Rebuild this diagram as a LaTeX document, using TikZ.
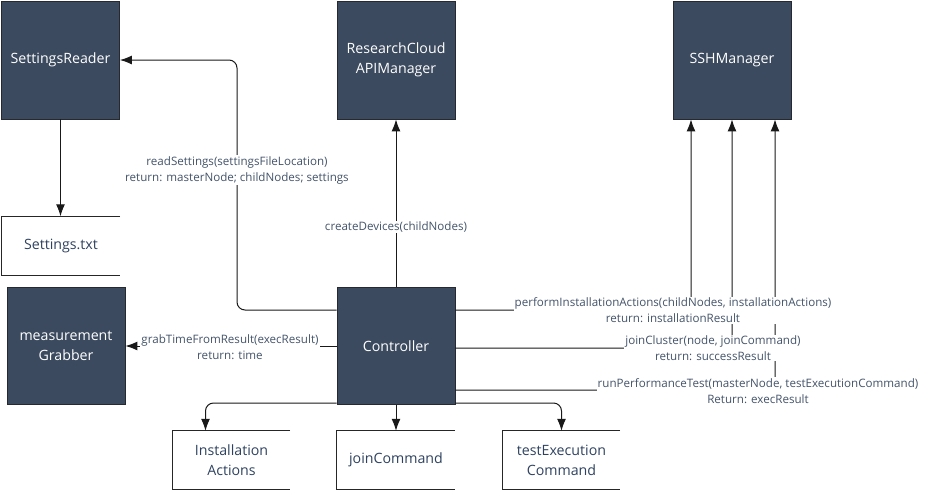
\documentclass[tikz,border=0pt]{standalone}
\usepackage{fontspec}
\setmainfont{Open Sans}
\usepackage{xcolor}
\usepackage{tikz}
\usetikzlibrary{arrows.meta}

\definecolor{boxfill}{HTML}{3B4A5E}
\definecolor{boxline}{HTML}{262A30}
\definecolor{lbltext}{HTML}{44546A}
\definecolor{filetext}{HTML}{2E4260}

\tikzset{
	comp/.style={draw=boxline, fill=boxfill, text=white, line width=0.8pt, minimum width=118pt, minimum height=118pt, align=center, font=\fontsize{14.2}{20}\selectfont},
	store/.style={minimum width=118pt, minimum height=59pt, align=center, text=filetext, font=\fontsize{14.2}{20}\selectfont},
	storeline/.style={draw=black!85, line width=1pt},
	conn/.style={draw=black!90, line width=1pt, rounded corners=8pt, -{Latex[length=12pt,width=9pt]}},
	lbl/.style={fill=white, text=lbltext, align=center, inner sep=1pt, font=\fontsize{11.6}{16}\selectfont}
}

\begin{document}
\begin{tikzpicture}[x=1pt, y=-1pt]
			\useasboundingbox (0,0) rectangle (927,491);

			\node[comp] (reader) at (60.5,60) {SettingsReader};
			\node[comp] (apimgr) at (396,60) {ResearchCloud\\APIManager};
			\node[comp] (sshmgr) at (732,60) {SSHManager};
			\node[comp, minimum height=117pt] (grabber) at (66,346) {measurement\\Grabber};
			\node[comp, minimum height=117pt] (ctrl) at (396,346) {Controller};

			\node[store] (settings) at (61,246) {Settings.txt};
			\node[store, minimum width=117pt, minimum height=58pt] (instact) at (231.5,460) {Installation\\Actions};
			\node[store, minimum height=58pt] (joincmd) at (396,460) {joinCommand};
			\node[store, minimum width=117pt, minimum height=58pt] (testcmd) at (561.5,460) {testExecution\\Command};
			\foreach \n in {settings, instact, joincmd, testcmd}
				\draw[storeline] (\n.north east) -- (\n.north west) -- (\n.south west) -- (\n.south east);

			\coordinate (rdturn) at (237,60);
			\draw[conn] ([yshift=36pt]ctrl.west) -| (rdturn) -- (reader.east);
			\draw[conn] (reader.south) -- (reader.south |- settings.north);
			\draw[conn] (ctrl.north) -- (apimgr.south);
			\draw[conn] (ctrl.west) -- (grabber.east);
			\draw[conn] ([yshift=36pt]ctrl.east) -| ([xshift=-41pt]sshmgr.south);
			\draw[conn] ([yshift=-2pt]ctrl.east) -| (sshmgr.south);
			\draw[conn] ([yshift=-44pt]ctrl.east) -| ([xshift=43pt]sshmgr.south);
			\draw[conn] ([yshift=-57pt]ctrl.west) -| ([xshift=-26pt]instact.north);
			\draw[conn] (ctrl.south) -- (joincmd.north);
			\draw[conn] ([yshift=-57pt]ctrl.east) -| (testcmd.north);

			\node[lbl] (rdlbl) at (237,170) {readSettings(settingsFileLocation)\\return: masterNode; childNodes; settings};
			\node[lbl] (devlbl) at (396,227) {createDevices(childNodes)};
			\node[lbl] (grablbl) at (230,347) {grabTimeFromResult(execResult)\\return: time};
			\node[lbl] (instlbl) at (673,310.5) {performInstallationActions(childNodes, installationActions)\\return: installationResult};
			\node[lbl] (joinlbl) at (713,348) {joinCluster(node, joinCommand)\\return: successResult};
			\node[lbl] (perflbl) at (758,391) {runPerformanceTest(masterNode, testExecutionCommand)\\Return: execResult};
		\end{tikzpicture}
\end{document}
